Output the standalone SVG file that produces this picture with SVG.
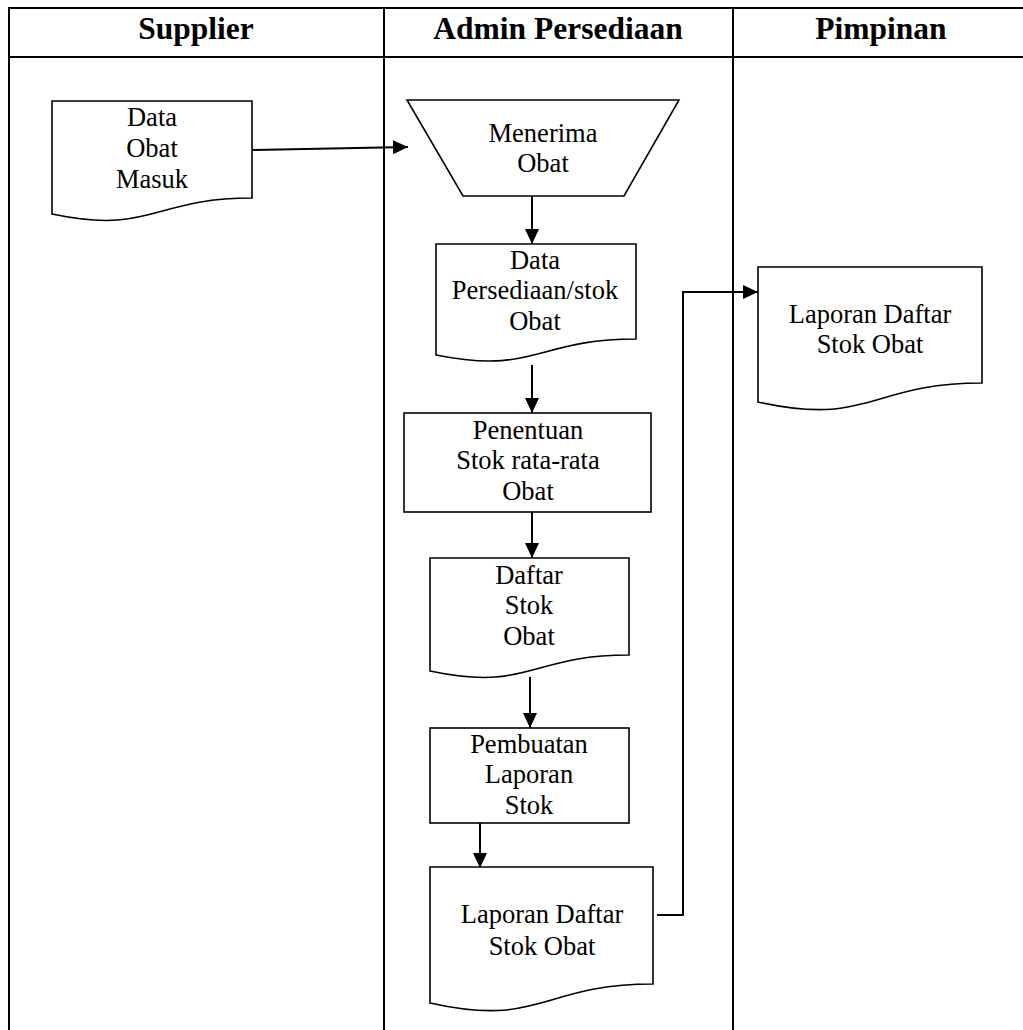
<svg xmlns="http://www.w3.org/2000/svg" width="1023" height="1030" viewBox="0 0 1023 1030">
<style>
.grid{stroke:#000;stroke-width:2;fill:none}
.shape{stroke:#000;stroke-width:1.6;fill:#fff}
.conn{stroke:#000;stroke-width:2;fill:none}
.hdr{font-family:"Liberation Serif","Times New Roman",serif;font-weight:bold;font-size:31.5px;text-anchor:middle;fill:#000}
.lbl{font-family:"Liberation Serif","Times New Roman",serif;font-size:26.5px;text-anchor:middle;fill:#000}
</style>
<defs>
<marker id="ah" markerUnits="userSpaceOnUse" markerWidth="16" markerHeight="16" viewBox="0 0 16 14" refX="15" refY="7" orient="auto">
<path d="M0,0 L15,7 L0,14 Z" fill="#000"/>
</marker>
</defs>
<rect width="1023" height="1030" fill="#fff"/>
<g id="table">
<line class="grid" x1="9" y1="8" x2="1023" y2="8"/>
<line class="grid" x1="9" y1="57" x2="1023" y2="57"/>
<line class="grid" x1="9" y1="7" x2="9" y2="1030"/>
<line class="grid" x1="384" y1="7" x2="384" y2="1030"/>
<line class="grid" x1="733" y1="7" x2="733" y2="1030"/>
<text class="hdr" x="196" y="39">Supplier</text>
<text class="hdr" x="558" y="39">Admin Persediaan</text>
<text class="hdr" x="881" y="39">Pimpinan</text>
</g>
<g id="connectors">
<line class="conn" x1="252" y1="150" x2="408" y2="147" marker-end="url(#ah)"/>
<line class="conn" x1="532" y1="196" x2="532" y2="244" marker-end="url(#ah)"/>
<line class="conn" x1="532" y1="365" x2="532" y2="413" marker-end="url(#ah)"/>
<line class="conn" x1="532" y1="507" x2="532" y2="558" marker-end="url(#ah)"/>
<line class="conn" x1="530" y1="677" x2="530" y2="728" marker-end="url(#ah)"/>
<line class="conn" x1="480" y1="823" x2="480" y2="868" marker-end="url(#ah)"/>
<polyline class="conn" points="657,915 683,915 683,292 758,292" marker-end="url(#ah)"/>
</g>
<g id="n-data-obat-masuk">
<path class="shape" d="M52,101 L252,101 L252,198 C152,198 152,235 52,214 Z"/>
<text class="lbl" x="152" y="126">Data</text>
<text class="lbl" x="152" y="157">Obat</text>
<text class="lbl" x="152" y="188">Masuk</text>
</g>
<g id="n-menerima-obat">
<path class="shape" d="M407,100 L679,100 L624,196 L463,196 Z"/>
<text class="lbl" x="543" y="142">Menerima</text>
<text class="lbl" x="543" y="172">Obat</text>
</g>
<g id="n-data-persediaan">
<path class="shape" d="M436,244 L636,244 L636,339 C536,339 536,375 436,355 Z"/>
<text class="lbl" x="535" y="269">Data</text>
<text class="lbl" x="535" y="299">Persediaan/stok</text>
<text class="lbl" x="535" y="330">Obat</text>
</g>
<g id="n-penentuan">
<rect class="shape" x="404" y="413" width="247" height="99"/>
<text class="lbl" x="528" y="439">Penentuan</text>
<text class="lbl" x="528" y="469">Stok rata-rata</text>
<text class="lbl" x="528" y="500">Obat</text>
</g>
<g id="n-daftar-stok">
<path class="shape" d="M430,558 L629,558 L629,655 C529.5,655 529.5,692 430,671 Z"/>
<text class="lbl" x="529" y="584">Daftar</text>
<text class="lbl" x="529" y="614">Stok</text>
<text class="lbl" x="529" y="645">Obat</text>
</g>
<g id="n-pembuatan">
<rect class="shape" x="430" y="728" width="199" height="95"/>
<text class="lbl" x="529" y="753">Pembuatan</text>
<text class="lbl" x="529" y="783">Laporan</text>
<text class="lbl" x="529" y="814">Stok</text>
</g>
<g id="n-laporan-admin">
<path class="shape" d="M430,867 L653,867 L653,984 C541.5,984 541.5,1028 430,1003 Z"/>
<text class="lbl" x="542" y="923">Laporan Daftar</text>
<text class="lbl" x="542" y="955">Stok Obat</text>
</g>
<g id="n-laporan-pimpinan">
<path class="shape" d="M758,267 L982,267 L982,383 C870,383 870,427 758,402 Z"/>
<text class="lbl" x="870" y="323">Laporan Daftar</text>
<text class="lbl" x="870" y="353">Stok Obat</text>
</g>
</svg>
